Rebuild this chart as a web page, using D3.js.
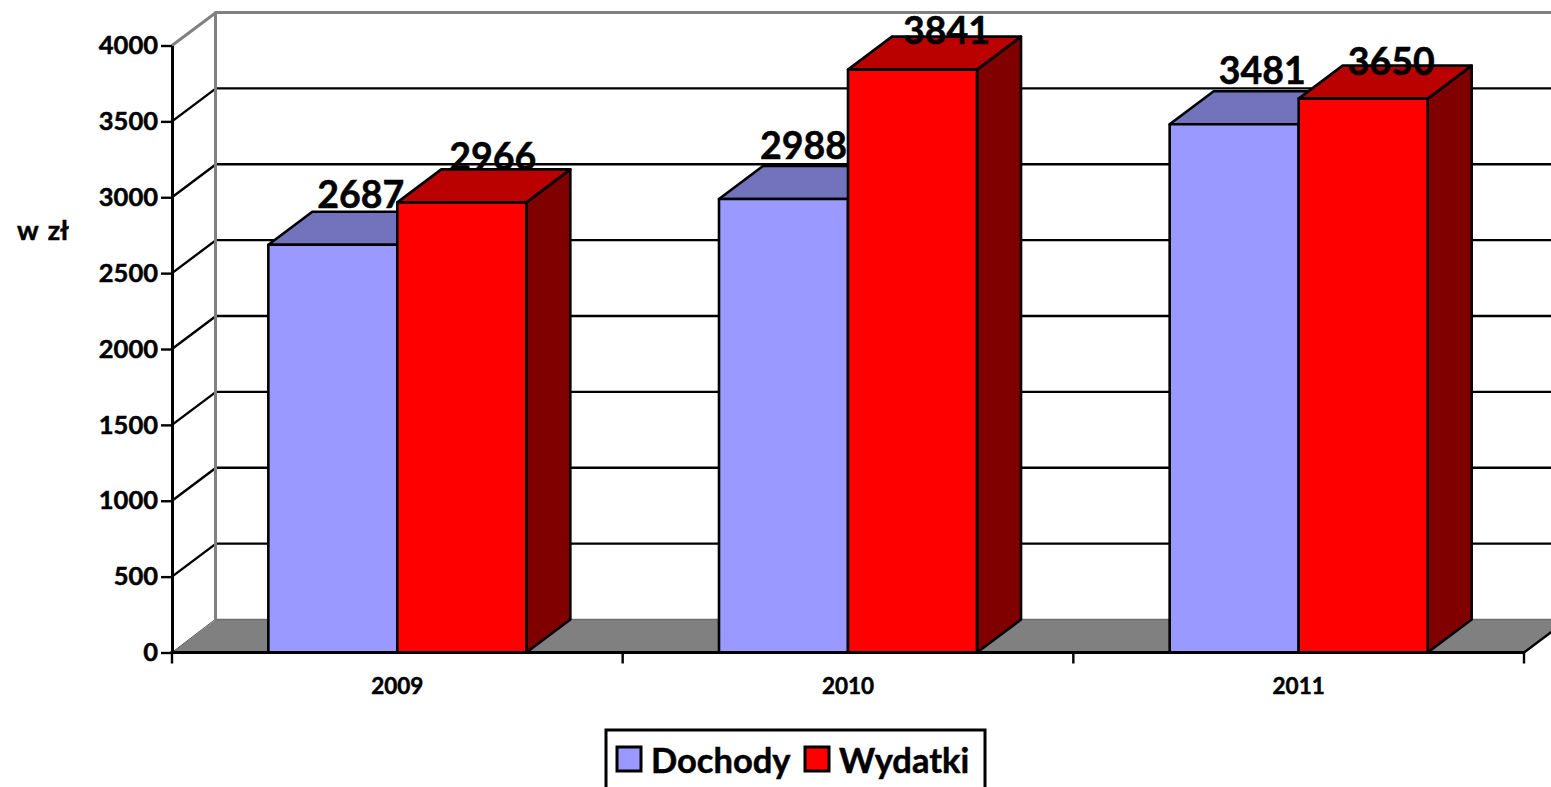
<!DOCTYPE html>
<html>
<head>
<meta charset="utf-8">
<script src="https://cdn.jsdelivr.net/npm/d3@7"></script>
<style>
html,body{margin:0;padding:0;background:#fff;overflow:hidden;}
svg{display:block;}
text{font-family:Lato,"Open Sans",sans-serif;font-weight:700;fill:#000;stroke:#000;stroke-width:.5px;}
</style>
</head>
<body>
<svg id="chart" width="1551" height="787"></svg>
<script>
var years = ["2009","2010","2011"];
var dochody = [2687,2988,3481];
var wydatki = [2966,3841,3650];
var seriesNames = ["Dochody","Wydatki"];
var yTicks = [0,500,1000,1500,2000,2500,3000,3500,4000];

// label nudges from the bar centre, the original chart places them unevenly
var nudgeX = [[28,20,28],[31,34,28]];
var nudgeY = [[-37,-40,-40],[-32,-26,-24]];

var frontColors = ["#9999ff","#ff0000"];
var topColors = ["#7373bd","#bb0000"];
var sideColors = ["#5c5c99","#800000"];

var depthX = 44, depthY = -33;
var svg = d3.select("#chart");

var x = d3.scaleBand().domain(years).range([172,1524]);
var y = d3.scaleLinear().domain([0,4000]).range([652.5,45.5]);
var barW = 129;

function poly(pts){ return d3.line()(pts); }

// back wall and floor
var floorG = svg.append("g");
floorG.append("path")
  .attr("d",poly([[172,y(0)],[172+depthX,y(0)+depthY],[1524+depthX,y(0)+depthY],[1524,y(0)]])+"Z")
  .attr("fill","#808080");
floorG.append("path")
  .attr("d",poly([[215,y(0)+depthY],[1551,y(0)+depthY]]))
  .attr("stroke","#6e6e6e").attr("stroke-width",1.5).attr("fill","none");

// gridlines on the wall and their diagonals on the side wall
yTicks.forEach(function(t){
  if(t==0) return;
  var col = t==4000 ? "#808080" : "#000";
  var sw = t==4000 ? 3 : 2.4;
  svg.append("path")
    .attr("d",poly([[172,y(t)],[172+depthX,y(t)+depthY],[1551,y(t)+depthY]]))
    .attr("fill","none").attr("stroke",col).attr("stroke-width",sw);
});
svg.append("line")
  .attr("x1",215.5).attr("x2",215.5)
  .attr("y1",y(4000)+depthY-1).attr("y2",y(0)+depthY)
  .attr("stroke","#808080").attr("stroke-width",3);
svg.append("line")
  .attr("x1",172).attr("x2",215)
  .attr("y1",y(0)).attr("y2",y(0)+depthY)
  .attr("stroke","#555").attr("stroke-width",1);
svg.append("line")
  .attr("x1",1524).attr("x2",1524+depthX)
  .attr("y1",y(0)).attr("y2",y(0)+depthY)
  .attr("stroke","#000").attr("stroke-width",2.4);

// bars
[dochody,wydatki].forEach(function(vals,s){
  var g = svg.append("g").attr("stroke","#000").attr("stroke-width",2.6).attr("stroke-linejoin","round");
  years.forEach(function(yr,i){
    var x0 = x(yr)+x.bandwidth()/2-barW+s*barW;
    var x1 = x0+barW;
    var top = y(vals[i]), base = y(0);
    g.append("path")
      .attr("d",poly([[x1,top],[x1+depthX,top+depthY],[x1+depthX,base+depthY],[x1,base]])+"Z")
      .attr("fill",sideColors[s]);
    g.append("path")
      .attr("d",poly([[x0,top],[x0+depthX,top+depthY],[x1+depthX,top+depthY],[x1,top]])+"Z")
      .attr("fill",topColors[s]);
    g.append("rect")
      .attr("x",x0).attr("y",top).attr("width",barW).attr("height",base-top)
      .attr("fill",frontColors[s]);
  });
});

// axes
var yAxis = d3.axisLeft(y).tickValues(yTicks).tickFormat(d3.format("d")).tickSize(11).tickPadding(3).tickSizeOuter(0);
var gy = svg.append("g").attr("transform","translate(172,0)").call(yAxis);
gy.select(".domain").attr("stroke","#000").attr("stroke-width",3);
gy.selectAll(".tick line").attr("stroke","#000").attr("stroke-width",2.4);
gy.selectAll("text").style("font-size","25.5px").style("font-family","Lato").attr("dy","0.32em");

var gx = svg.append("g").attr("transform","translate(0,"+y(0)+")");
gx.append("line").attr("x1",170.5).attr("x2",1524).attr("stroke","#000").attr("stroke-width",3);
x.domain().concat(["end"]).forEach(function(d,i){
  var px = x.range()[0]+i*x.step();
  gx.append("line").attr("x1",px).attr("x2",px).attr("y1",0).attr("y2",11).attr("stroke","#000").attr("stroke-width",2.4);
});
gx.selectAll(".cat").data(years).enter().append("text")
  .attr("class","cat")
  .attr("x",function(d){ return x(d)+x.bandwidth()/2; })
  .attr("y",41.5)
  .attr("text-anchor","middle")
  .style("font-size","22.5px")
  .text(function(d){ return d; });

svg.append("text").attr("x",17).attr("y",240).style("font-size","27px").style("word-spacing","3px").text("w zł");

// value labels
[dochody,wydatki].forEach(function(vals,s){
  years.forEach(function(yr,i){
    var x0 = x(yr)+x.bandwidth()/2-barW+s*barW;
    svg.append("text")
      .attr("x",x0+barW/2+nudgeX[s][i])
      .attr("y",y(vals[i])+nudgeY[s][i])
      .attr("text-anchor","middle")
      .style("font-size","37.5px")
      .text(vals[i]);
  });
});

// legend
var lg = svg.append("g");
lg.append("rect").attr("x",606).attr("y",730).attr("width",379).attr("height",70)
  .attr("fill","#fff").attr("stroke","#000").attr("stroke-width",3);
var legendX = [617,805];
seriesNames.forEach(function(n,i){
  lg.append("rect").attr("x",legendX[i]).attr("y",747).attr("width",24).attr("height",24)
    .attr("fill",frontColors[i]).attr("stroke","#000").attr("stroke-width",3);
  lg.append("text").attr("x",legendX[i]+34).attr("y",772.5)
    .style("font-size","34.5px").text(n);
});
</script>
</body>
</html>
